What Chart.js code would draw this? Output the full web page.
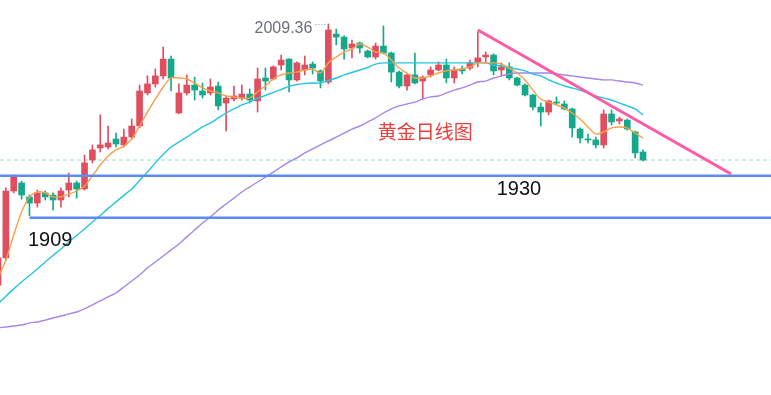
<!DOCTYPE html>
<html>
<head>
<meta charset="utf-8">
<script src="https://cdn.jsdelivr.net/npm/chart.js@4/dist/chart.umd.min.js"></script>
<style>
  html, body { margin: 0; padding: 0; background: #fff; }
  #wrap { width: 771px; height: 395px; position: relative; }
</style>
</head>
<body>
<div id="wrap"><canvas id="goldChart"></canvas></div>
<script>
// daily candles, oldest first
const open = [1872.8,1887.0,1922.0,1926.2,1918.9,1915.7,1921.0,1919.9,1917.3,1922.5,
  1926.2,1923.1,1938.2,1944.5,1945.0,1949.2,1946.1,1950.2,1956.0,1973.3,
  1978.0,1982.2,1991.0,1962.8,1973.3,1977.4,1974.3,1973.3,1976.9,1968.0,
  1970.1,1970.6,1972.7,1969.1,1981.1,1980.6,1987.9,1991.0,1980.1,1985.3,
  1988.4,1984.8,1979.0,2004.1,2002.5,1996.8,1999.4,1995.2,1992.1,1997.8,
  1994.2,1984.2,1976.9,1982.7,1979.5,1982.7,1985.3,1987.9,1981.1,1985.8,
  1986.3,1989.5,1992.1,1993.1,1985.3,1986.9,1981.1,1977.4,1972.2,1965.9,
  1963.3,1968.5,1967.5,1964.9,1954.4,1949.2,1948.7,1946.1,1962.3,1958.6,
  1959.1,1952.9,1942.4]
const close = [1887.0,1922.0,1929.3,1919.9,1915.7,1921.0,1918.9,1917.3,1922.0,1926.2,
  1923.1,1936.7,1943.5,1946.1,1947.1,1946.6,1950.2,1956.0,1974.3,1978.0,
  1982.2,1991.0,1981.1,1973.3,1977.4,1974.8,1972.2,1976.4,1966.5,1970.6,
  1971.7,1972.7,1969.6,1980.6,1979.5,1986.9,1990.5,1980.1,1989.0,1987.9,
  1986.3,1979.5,2006.2,2002.5,1996.3,1998.9,1996.8,1992.1,1997.8,1994.2,
  1984.2,1976.9,1982.7,1978.5,1981.6,1985.3,1987.9,1981.1,1985.3,1984.8,
  1989.0,1991.6,1993.1,1984.8,1986.9,1981.1,1977.4,1972.2,1965.9,1963.3,
  1969.1,1968.0,1964.9,1955.0,1949.7,1948.7,1946.1,1962.3,1958.1,1959.7,
  1954.4,1941.9,1938.2]
const high = [1888.5,1923.6,1930.4,1927.2,1919.9,1922.5,1922.0,1921.0,1923.6,1931.4,
  1927.2,1940.8,1946.1,1961.8,1956.0,1952.3,1954.4,1959.7,1977.4,1982.2,
  1985.8,1997.3,1992.6,1978.0,1982.7,1981.6,1978.5,1980.6,1979.0,1971.7,
  1976.9,1977.4,1975.4,1986.3,1986.3,1987.4,1993.1,1991.3,1989.5,1992.6,
  1989.5,1985.3,2009.36,2006.7,2003.1,2001.0,1999.9,1995.8,1999.4,2008.3,
  1994.7,1984.8,1983.2,1994.2,1982.2,1986.9,1989.5,1991.0,1986.9,1987.4,
  1990.5,2005.2,1994.7,1993.7,1989.0,1989.0,1981.6,1978.0,1972.7,1968.0,
  1969.6,1971.2,1969.1,1965.4,1955.0,1951.8,1950.2,1964.4,1964.4,1960.7,
  1959.7,1953.4,1943.5]
const low = [1869.2,1885.9,1921.0,1917.8,1909.0,1913.6,1917.3,1912.1,1913.6,1918.9,
  1918.3,1922.5,1936.7,1942.4,1944.0,1945.0,1945.0,1949.2,1955.0,1972.2,
  1976.4,1980.6,1974.3,1962.5,1972.2,1969.6,1970.6,1972.2,1964.4,1953.4,
  1969.1,1969.6,1968.0,1963.3,1974.8,1980.1,1985.3,1973.8,1979.5,1982.7,
  1983.2,1975.9,1978.0,1998.4,1991.0,1991.6,1994.2,1991.6,1991.0,1993.7,
  1979.0,1975.9,1974.8,1978.0,1970.1,1981.6,1984.8,1978.5,1978.5,1983.2,
  1985.3,1986.9,1989.5,1982.7,1982.2,1980.1,1976.9,1971.7,1964.4,1956.0,
  1961.8,1967.0,1964.4,1950.2,1947.1,1947.1,1944.5,1944.5,1956.5,1957.1,
  1953.9,1939.3,1937.7]

// moving averages
const ma5 = [1876.5,1885.9,1899.0,1911.0,1918.9,1921.5,1921.0,1918.9,1918.9,1920.4,
  1922.0,1924.6,1929.9,1935.6,1940.3,1943.5,1945.5,1949.2,1956.0,1963.3,
  1970.1,1976.4,1981.1,1981.1,1980.6,1978.5,1975.9,1974.3,1973.3,1971.7,
  1971.2,1970.6,1970.6,1973.8,1976.9,1980.6,1982.7,1983.7,1984.2,1985.3,
  1985.8,1983.7,1989.0,1992.1,1994.7,1996.3,1998.9,1997.3,1994.7,1994.2,
  1990.5,1986.3,1983.7,1981.1,1981.1,1982.2,1983.7,1984.8,1985.3,1985.8,
  1986.9,1989.0,1989.0,1989.0,1988.4,1986.3,1983.7,1980.1,1974.8,1970.1,
  1968.5,1967.0,1965.4,1962.8,1959.7,1955.5,1951.8,1952.9,1955.0,1955.5,
  1955.0,1952.3,1949.7]
const ma20 = [1863.0,1867.0,1870.8,1874.4,1877.8,1881.2,1884.9,1888.3,1891.7,1895.3,
  1898.7,1902.1,1905.8,1909.2,1912.9,1916.3,1919.7,1923.1,1927.5,1931.9,
  1936.7,1941.1,1945.0,1947.6,1950.2,1952.9,1955.5,1957.6,1960.2,1962.8,
  1964.9,1967.0,1968.5,1970.4,1972.0,1973.5,1975.1,1976.7,1977.7,1978.2,
  1978.5,1978.5,1979.8,1981.1,1982.7,1984.0,1985.3,1986.6,1988.4,1989.0,
  1989.0,1989.0,1989.0,1989.0,1989.0,1989.0,1989.0,1989.0,1989.0,1989.0,
  1989.0,1989.0,1989.0,1987.9,1987.4,1986.3,1985.8,1984.8,1983.2,1982.2,
  1980.1,1978.5,1976.9,1975.9,1974.8,1973.3,1971.7,1970.6,1969.6,1968.0,
  1966.5,1964.9,1961.8]
const ma60 = [1850.4,1850.9,1851.4,1851.9,1853.0,1853.5,1854.5,1855.6,1856.6,1857.7,
  1858.7,1860.3,1862.4,1864.5,1866.6,1868.7,1871.8,1874.9,1878.1,1881.7,
  1884.9,1888.0,1891.2,1894.3,1898.0,1901.6,1905.3,1908.4,1912.1,1915.2,
  1918.3,1921.5,1924.1,1926.7,1929.3,1931.9,1934.6,1937.2,1939.3,1941.9,
  1944.0,1946.1,1948.2,1950.2,1952.3,1954.4,1956.0,1958.1,1960.2,1962.8,
  1964.9,1966.5,1967.5,1968.5,1970.1,1971.2,1971.7,1973.3,1974.8,1975.9,
  1977.4,1979.0,1979.5,1981.1,1982.2,1983.2,1983.7,1983.7,1983.7,1983.7,
  1983.7,1983.2,1982.7,1982.2,1981.6,1981.1,1980.6,1980.1,1980.1,1979.5,
  1979.0,1978.5,1977.4]

// drawn annotations
const trendX = [61, 93.2]
const trendY = [2006.2, 1930.9]
const support1930 = 1930
const support1909 = 1909
const support1909Line = 1908
const support1909Start = 4
const lastPrice = 1938.2
const title = '黄金日线图'
const highLabel = '2009.36'
const highIndex = 42

const UP = '#e04f5f'
const DOWN = '#15a98b'

const xs = open.map((_, i) => i)
const isUp = xs.map((i) => close[i] >= open[i])
const candleColors = isUp.map((u) => (u ? UP : DOWN))

const X_MIN = 0.254
const X_MAX = 98.27

const toPoints = (arr) => arr.map((v, i) => ({ x: i, y: v }))
const hLine = (y, x0 = X_MIN, x1 = X_MAX) => [{ x: x0, y }, { x: x1, y }]

// text labels
const labelsPlugin = {
  id: 'labelsPlugin',
  afterDatasetsDraw(chart) {
    const { ctx, scales: { x, y } } = chart
    ctx.save()

    // 2009.36 ···· at the top
    const hx = x.getPixelForValue(highIndex)
    const hy = y.getPixelForValue(high[highIndex])
    ctx.font = '16px "Liberation Sans", Arial, sans-serif'
    ctx.fillStyle = '#6b6f7a'
    ctx.textAlign = 'right'
    ctx.textBaseline = 'middle'
    ctx.fillText(highLabel, hx - 16, hy + 5)
    ctx.strokeStyle = '#8a8e98'
    ctx.lineWidth = 1
    ctx.setLineDash([1, 2])
    ctx.beginPath()
    ctx.moveTo(hx - 13, hy + 0.5)
    ctx.lineTo(hx - 3, hy + 0.5)
    ctx.stroke()
    ctx.setLineDash([])

    // title
    ctx.font = '19px "Noto Sans CJK SC", sans-serif'
    ctx.fillStyle = '#e8403c'
    ctx.textAlign = 'center'
    ctx.fillText(title, x.getPixelForValue(54.3), y.getPixelForValue(1952.9))

    // level labels
    ctx.font = '20px "Liberation Sans", Arial, sans-serif'
    ctx.fillStyle = '#111'
    ctx.textAlign = 'left'
    ctx.fillText(String(support1930), x.getPixelForValue(63.4), y.getPixelForValue(support1930) + 14)
    ctx.fillText(String(support1909), x.getPixelForValue(3.8), y.getPixelForValue(support1909Line) + 23)

    ctx.restore()
  },
}

const lineStyle = (color, width = 1.4) => ({
  type: 'line',
  borderColor: color,
  borderWidth: width,
  pointRadius: 0,
  fill: false,
  tension: 0.3,
})

new Chart(document.getElementById('goldChart'), {
  type: 'bar',
  data: {
    datasets: [
      {
        ...lineStyle('#ff5aa5', 3),
        tension: 0,
        data: [{ x: trendX[0], y: trendY[0] }, { x: trendX[1], y: trendY[1] }],
        order: 1,
      },
      {
        ...lineStyle('#5b8cf5', 2.5),
        tension: 0,
        data: hLine(support1930),
        order: 2,
      },
      {
        ...lineStyle('#5b8cf5', 2.5),
        tension: 0,
        data: hLine(support1909Line, support1909Start),
        order: 2,
      },
      {
        ...lineStyle('#f7a04b'),
        data: toPoints(ma5),
        order: 3,
      },
      {
        ...lineStyle('#26c4e0'),
        data: toPoints(ma20),
        order: 4,
      },
      {
        ...lineStyle('#a587ea'),
        data: toPoints(ma60),
        order: 5,
      },
      {
        ...lineStyle('#9fd8c8', 1),
        tension: 0,
        borderDash: [4, 3],
        data: hLine(lastPrice),
        order: 9,
      },
      {
        type: 'bar',
        data: xs.map((i) => ({ x: i, y: [open[i], close[i]] })),
        backgroundColor: candleColors,
        barThickness: 6,
        minBarLength: 1,
        grouped: false,
        order: 6,
      },
      {
        type: 'bar',
        data: xs.map((i) => ({ x: i, y: [low[i], high[i]] })),
        backgroundColor: candleColors,
        barThickness: 1,
        grouped: false,
        order: 7,
      },
    ],
  },
  options: {
    responsive: true,
    maintainAspectRatio: false,
    animation: false,
    layout: { padding: 0 },
    plugins: {
      legend: { display: false },
      tooltip: { enabled: false },
    },
    scales: {
      x: { type: 'linear', min: X_MIN, max: X_MAX, display: false, offset: false },
      y: { min: 1815.3, max: 2021.9, display: false },
    },
  },
  plugins: [labelsPlugin],
})
</script>
</body>
</html>
